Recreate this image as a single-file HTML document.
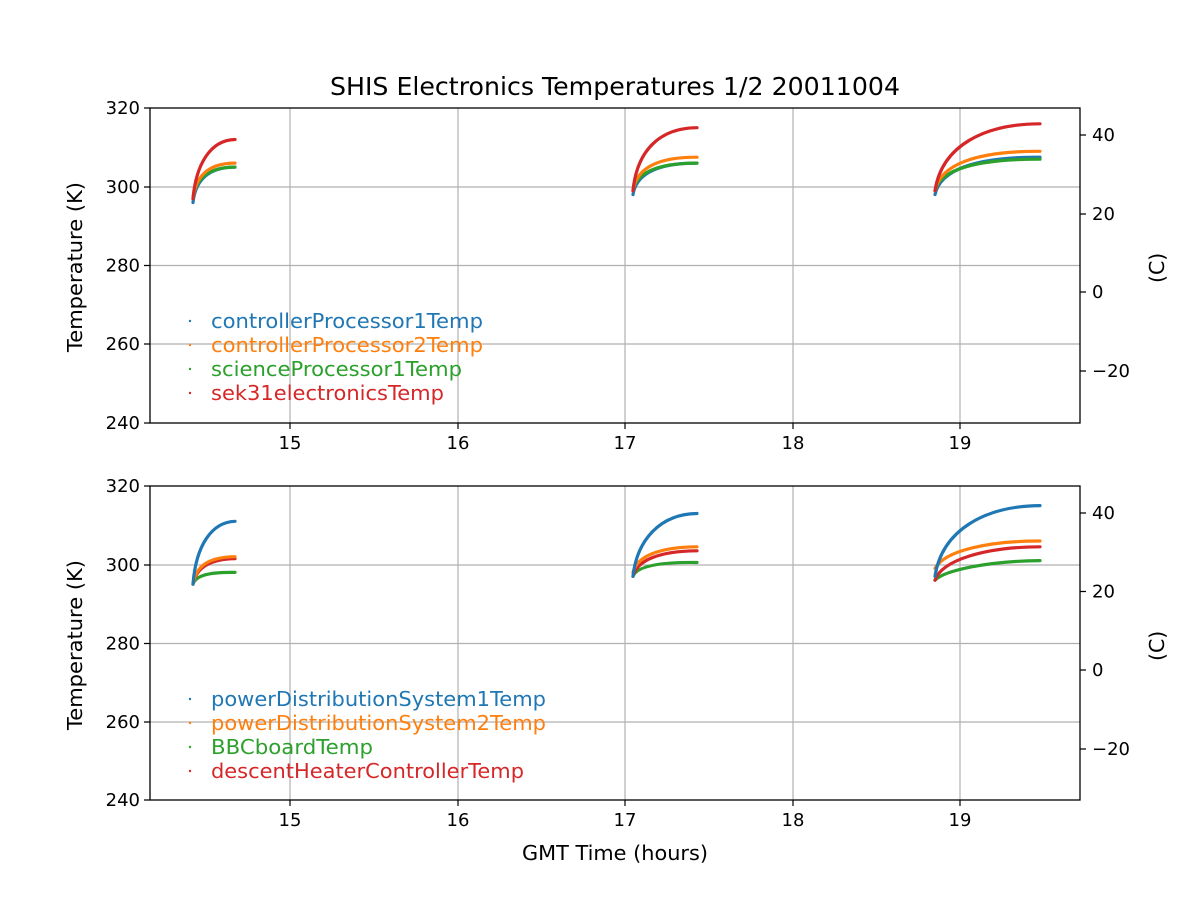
<!DOCTYPE html>
<html><head><meta charset="utf-8"><style>body{margin:0;background:#fff}svg{display:block}text{font-family:"DejaVu Sans","Liberation Sans",sans-serif;fill:#000}</style></head><body>
<svg width="1200" height="900" viewBox="0 0 1200 900" xmlns="http://www.w3.org/2000/svg">
<text x="330" y="95" font-size="25" textLength="570" lengthAdjust="spacingAndGlyphs">SHIS Electronics Temperatures 1/2 20011004</text>
<g stroke="#b0b0b0" stroke-width="1.2">
<line x1="290" y1="108" x2="290" y2="423"/><line x1="458" y1="108" x2="458" y2="423"/><line x1="625" y1="108" x2="625" y2="423"/><line x1="793" y1="108" x2="793" y2="423"/><line x1="960" y1="108" x2="960" y2="423"/>
<line x1="150" y1="187" x2="1080" y2="187"/><line x1="150" y1="265.5" x2="1080" y2="265.5"/><line x1="150" y1="344" x2="1080" y2="344"/>
<line x1="290" y1="486" x2="290" y2="800"/><line x1="458" y1="486" x2="458" y2="800"/><line x1="625" y1="486" x2="625" y2="800"/><line x1="793" y1="486" x2="793" y2="800"/><line x1="960" y1="486" x2="960" y2="800"/>
<line x1="150" y1="565" x2="1080" y2="565"/><line x1="150" y1="643.5" x2="1080" y2="643.5"/><line x1="150" y1="722" x2="1080" y2="722"/>
</g>
<g fill="none" stroke-width="3.2" stroke-linecap="round">
<path stroke="#1f77b4" d="M193,202.5 C195,184 205,167 235,167.1"/>
<path stroke="#2ca02c" d="M193,198.6 C195,182 205,167 235,167.1"/>
<path stroke="#ff7f0e" d="M193,198.6 C195,180 205,163 235,163.1"/>
<path stroke="#d62728" d="M193,198.6 C196,165 210,140 235,139.5"/>
<path stroke="#1f77b4" d="M633,194.6 C636,175 655,163 697,163.1"/>
<path stroke="#2ca02c" d="M633,190.7 C636,174 655,163 697,163.1"/>
<path stroke="#ff7f0e" d="M633,190.7 C636,170 655,157 697,157.2"/>
<path stroke="#d62728" d="M633,190.7 C637,150 660,128 697,127.7"/>
<path stroke="#1f77b4" d="M935,194.6 C940,170 975,157 1040,157.2"/>
<path stroke="#2ca02c" d="M935,190.7 C940,170 975,159 1040,159.2"/>
<path stroke="#ff7f0e" d="M935,190.7 C940,165 975,151 1040,151.3"/>
<path stroke="#d62728" d="M935,190.7 C942,145 985,124 1040,123.8"/>
<path stroke="#2ca02c" d="M193,584.1 C196,575 210,572 235,572.4"/>
<path stroke="#d62728" d="M193,584.1 C196,568 210,559 235,558.6"/>
<path stroke="#ff7f0e" d="M193,584.1 C196,565 210,557 235,556.7"/>
<path stroke="#1f77b4" d="M193,584.1 C196,545 212,522 235,521.3"/>
<path stroke="#2ca02c" d="M633,576.3 C637,566 660,562 697,562.5"/>
<path stroke="#d62728" d="M633,576.3 C637,560 660,551 697,550.8"/>
<path stroke="#ff7f0e" d="M633,572.4 C637,556 660,547 697,546.8"/>
<path stroke="#1f77b4" d="M633,576.3 C637,540 660,514 697,513.5"/>
<path stroke="#2ca02c" d="M935,580.2 C945,570 990,561 1040,560.6"/>
<path stroke="#d62728" d="M935,580.2 C942,560 985,547 1040,546.8"/>
<path stroke="#ff7f0e" d="M935,568.4 C945,550 990,541 1040,541"/>
<path stroke="#1f77b4" d="M935,576.3 C942,530 985,506 1040,505.6"/>
</g>
<g fill="none" stroke="#000" stroke-width="1.3">
<rect x="150" y="108" width="930" height="315"/><rect x="150" y="486" width="930" height="314"/>
</g>
<g stroke="#000" stroke-width="1.2">
<path d="M290,423v6M458,423v6M625,423v6M793,423v6M960,423v6M290,800v6M458,800v6M625,800v6M793,800v6M960,800v6"/>
<path d="M150,108h-6M150,187h-6M150,265.5h-6M150,344h-6M150,423h-6M150,486h-6M150,565h-6M150,643.5h-6M150,722h-6M150,800h-6"/>
<path d="M1080,135h6M1080,214h6M1080,292h6M1080,371h6M1080,513h6M1080,591.5h6M1080,670h6M1080,749h6"/>
</g>
<g font-size="18" text-anchor="middle">
<text x="290" y="449">15</text><text x="458" y="449">16</text><text x="625" y="449">17</text><text x="793" y="449">18</text><text x="960" y="449">19</text>
<text x="290" y="826">15</text><text x="458" y="826">16</text><text x="625" y="826">17</text><text x="793" y="826">18</text><text x="960" y="826">19</text>
</g>
<text x="522" y="860" font-size="20.5" textLength="186" lengthAdjust="spacingAndGlyphs">GMT Time (hours)</text>
<g font-size="18" text-anchor="end">
<text x="140" y="114">320</text><text x="140" y="193">300</text><text x="140" y="271.5">280</text><text x="140" y="350">260</text><text x="140" y="429">240</text>
<text x="140" y="492">320</text><text x="140" y="571">300</text><text x="140" y="649.5">280</text><text x="140" y="728">260</text><text x="140" y="806">240</text>
</g>
<g font-size="18">
<text x="1092" y="141">40</text><text x="1092" y="220">20</text><text x="1092" y="298">0</text><text x="1092" y="377">−20</text>
<text x="1092" y="519">40</text><text x="1092" y="597.5">20</text><text x="1092" y="676">0</text><text x="1092" y="755">−20</text>
</g>
<g font-size="20.5">
<text transform="translate(82,352) rotate(-90)" textLength="170" lengthAdjust="spacingAndGlyphs">Temperature (K)</text>
<text transform="translate(82,730) rotate(-90)" textLength="170" lengthAdjust="spacingAndGlyphs">Temperature (K)</text>
<text transform="translate(1164,283) rotate(-90)">(C)</text>
<text transform="translate(1164,661) rotate(-90)">(C)</text>
</g>
<g font-size="20.5">
<circle cx="190" cy="321" r="1.2" fill="#1f77b4"/><text x="211" y="328" textLength="272" lengthAdjust="spacingAndGlyphs" style="fill:#1f77b4">controllerProcessor1Temp</text>
<circle cx="190" cy="345" r="1.2" fill="#ff7f0e"/><text x="211" y="352" textLength="272" lengthAdjust="spacingAndGlyphs" style="fill:#ff7f0e">controllerProcessor2Temp</text>
<circle cx="190" cy="369" r="1.2" fill="#2ca02c"/><text x="211" y="376" textLength="251" lengthAdjust="spacingAndGlyphs" style="fill:#2ca02c">scienceProcessor1Temp</text>
<circle cx="190" cy="393" r="1.2" fill="#d62728"/><text x="211" y="400" textLength="233" lengthAdjust="spacingAndGlyphs" style="fill:#d62728">sek31electronicsTemp</text>
<circle cx="190" cy="699" r="1.2" fill="#1f77b4"/><text x="211" y="706" textLength="335" lengthAdjust="spacingAndGlyphs" style="fill:#1f77b4">powerDistributionSystem1Temp</text>
<circle cx="190" cy="723" r="1.2" fill="#ff7f0e"/><text x="211" y="730" textLength="335" lengthAdjust="spacingAndGlyphs" style="fill:#ff7f0e">powerDistributionSystem2Temp</text>
<circle cx="190" cy="747" r="1.2" fill="#2ca02c"/><text x="211" y="754" textLength="162" lengthAdjust="spacingAndGlyphs" style="fill:#2ca02c">BBCboardTemp</text>
<circle cx="190" cy="771" r="1.2" fill="#d62728"/><text x="211" y="778" textLength="313" lengthAdjust="spacingAndGlyphs" style="fill:#d62728">descentHeaterControllerTemp</text>
</g>
</svg>
</body></html>
